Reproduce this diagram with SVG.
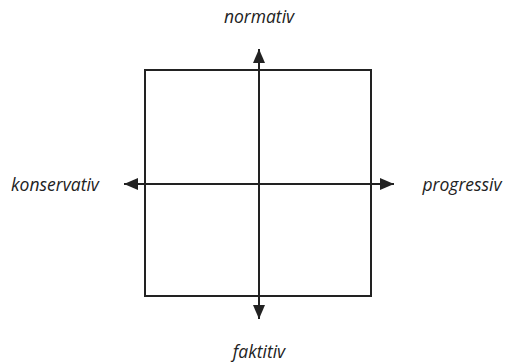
<svg xmlns="http://www.w3.org/2000/svg" width="505" height="363" viewBox="0 0 505 363">
<style>
.l{stroke:#222;stroke-width:2;fill:none}
.t{font-family:"Open Sans","Noto Sans",sans-serif;font-style:italic;font-size:17.5px;fill:#222}
</style>
<defs>
<marker id="a" viewBox="0 0 14 12" refX="14" refY="6" markerWidth="14" markerHeight="12" markerUnits="userSpaceOnUse" orient="auto"><path d="M0,0L14,6L0,12z" fill="#222"/></marker>
</defs>
<rect id="box" class="l" x="145" y="70" width="226" height="226"/>
<g id="connectors">
<line class="l" x1="259" y1="184" x2="259" y2="49" marker-end="url(#a)"/>
<line class="l" x1="259" y1="184" x2="259" y2="319" marker-end="url(#a)"/>
<line class="l" x1="259" y1="184" x2="124" y2="184" marker-end="url(#a)"/>
<line class="l" x1="259" y1="184" x2="394" y2="184" marker-end="url(#a)"/>
</g>
<g id="normativ"><text class="t" x="259" y="23" text-anchor="middle">normativ</text></g>
<g id="faktitiv"><text class="t" x="259" y="358" text-anchor="middle">faktitiv</text></g>
<g id="konservativ"><text class="t" x="55" y="191" text-anchor="middle">konservativ</text></g>
<g id="progressiv"><text class="t" x="462" y="191" text-anchor="middle">progressiv</text></g>
</svg>
